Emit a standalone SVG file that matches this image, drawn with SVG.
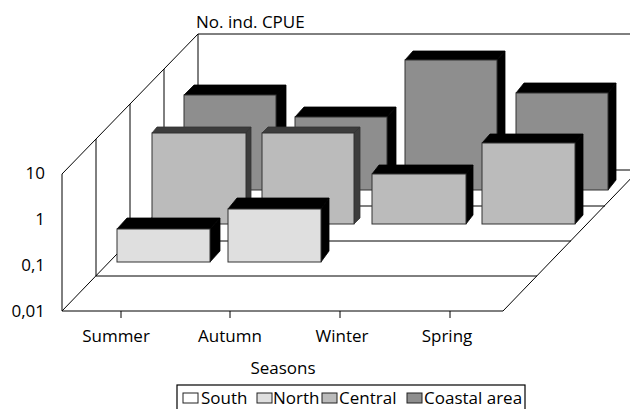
<svg xmlns="http://www.w3.org/2000/svg" width="630" height="409" viewBox="0 0 630 409">
<style>
  text { font-family: "Open Sans", "Noto Sans", "Liberation Sans", sans-serif; font-size: 17px; fill: #000; }
  .ln { stroke: #000; stroke-width: 1; fill: none; }
  .face { stroke: #333; stroke-width: 1; }
  .blk { fill: #000; stroke: #000; stroke-width: 0.8; }
  .dk { fill: #3c3c3c; stroke: #333; stroke-width: 0.8; }
  .coast { fill: #8e8e8e; }
  .central { fill: #bbbbbb; }
  .north { fill: #dfdfdf; }
  .south { fill: #ffffff; }
  .sw { stroke: #222; stroke-width: 1; }
</style>
<rect width="630" height="409" fill="#fff"/>

<g id="axes">
  <line class="ln" x1="62" y1="174" x2="62" y2="311"/>
  <line class="ln" x1="62" y1="174" x2="198" y2="34"/>
  <line class="ln" x1="96" y1="139" x2="96" y2="276"/>
  <line class="ln" x1="130" y1="104" x2="130" y2="241"/>
  <line class="ln" x1="164" y1="69" x2="164" y2="206"/>
  <line class="ln" x1="198" y1="34" x2="198" y2="170"/>
  <line class="ln" x1="198" y1="34" x2="640" y2="34" stroke="#444"/>
  <line class="ln" x1="62" y1="311" x2="503" y2="311"/>
  <line class="ln" x1="96" y1="276" x2="537" y2="276"/>
  <line class="ln" x1="130" y1="241" x2="571" y2="241"/>
  <line class="ln" x1="164" y1="206" x2="605" y2="206"/>
  <line class="ln" x1="198" y1="170" x2="640" y2="170"/>
  <line class="ln" x1="62" y1="311" x2="198" y2="170"/>
  <line class="ln" x1="503" y1="311" x2="639" y2="170"/>
  <line class="ln" x1="121" y1="311" x2="121" y2="318"/>
  <line class="ln" x1="230" y1="311" x2="230" y2="318"/>
  <line class="ln" x1="340" y1="311" x2="340" y2="318"/>
  <line class="ln" x1="450" y1="311" x2="450" y2="318"/>
</g>

<g id="labels">
  <text x="196" y="28">No. ind. CPUE</text>
  <text x="45" y="179" text-anchor="end">10</text>
  <text x="45" y="225" text-anchor="end">1</text>
  <text x="45" y="271" text-anchor="end">0,1</text>
  <text x="45" y="317" text-anchor="end">0,01</text>
  <text x="116" y="342" text-anchor="middle">Summer</text>
  <text x="230" y="342" text-anchor="middle">Autumn</text>
  <text x="342" y="342" text-anchor="middle">Winter</text>
  <text x="447" y="342" text-anchor="middle">Spring</text>
  <text x="283" y="374" text-anchor="middle">Seasons</text>
</g>

<g id="coastal-summer">
  <polygon class="blk" points="184,95 194,85 286,85 276,95"/>
  <polygon class="blk" points="276,95 286,85 286,180 276,190"/>
  <rect class="face coast" x="184" y="95" width="92" height="95"/>
</g>
<g id="coastal-autumn">
  <polygon class="blk" points="295,117 304,107 396,107 387,117"/>
  <polygon class="blk" points="387,117 396,107 396,180 387,190"/>
  <rect class="face coast" x="295" y="117" width="92" height="73"/>
</g>
<g id="coastal-winter">
  <polygon class="blk" points="405,60 413,51 505,51 497,60"/>
  <polygon class="blk" points="497,60 505,51 505,181 497,190"/>
  <rect class="face coast" x="405" y="60" width="92" height="130"/>
</g>
<g id="coastal-spring">
  <polygon class="blk" points="516,93 524,83 616,83 608,93"/>
  <polygon class="blk" points="608,93 616,83 616,180 608,190"/>
  <rect class="face coast" x="516" y="93" width="92" height="97"/>
</g>

<g id="central-summer">
  <polygon class="dk" points="152,133 157,127 251,127 246,133"/>
  <polygon class="dk" points="246,133 251,127 251,218 246,224"/>
  <rect class="face central" x="152" y="133" width="94" height="91"/>
</g>
<g id="central-autumn">
  <polygon class="dk" points="262,133 268,127 360,127 354,133"/>
  <polygon class="dk" points="354,133 360,127 360,218 354,224"/>
  <rect class="face central" x="262" y="133" width="92" height="91"/>
</g>
<g id="central-winter">
  <polygon class="blk" points="372,174 379,165 473,165 466,174"/>
  <polygon class="blk" points="466,174 473,165 473,215 466,224"/>
  <rect class="face central" x="372" y="174" width="94" height="50"/>
</g>
<g id="central-spring">
  <polygon class="blk" points="482,143 490,134 583,134 575,143"/>
  <polygon class="blk" points="575,143 583,134 583,215 575,224"/>
  <rect class="face central" x="482" y="143" width="93" height="81"/>
</g>

<g id="north-summer">
  <polygon class="blk" points="117,229 127,218 220,218 210,229"/>
  <polygon class="blk" points="210,229 220,218 220,251 210,262"/>
  <rect class="face north" x="117" y="229" width="93" height="33"/>
</g>
<g id="north-autumn">
  <polygon class="blk" points="228,209 237,198 329,198 321,209"/>
  <polygon class="blk" points="321,209 329,198 329,251 321,262"/>
  <rect class="face north" x="228" y="209" width="93" height="53"/>
</g>

<g id="legend">
  <rect x="177" y="385" width="348" height="30" fill="#fff" stroke="#000" stroke-width="1.2"/>
  <rect class="sw south" x="183" y="393" width="15" height="10"/>
  <text x="201" y="404">South</text>
  <rect class="sw north" x="257" y="393" width="15" height="10"/>
  <text x="273" y="404">North</text>
  <rect class="sw central" x="322" y="393" width="15" height="10"/>
  <text x="339" y="404">Central</text>
  <rect class="sw coast" x="407" y="393" width="15" height="10"/>
  <text x="424" y="404">Coastal area</text>
</g>
</svg>
